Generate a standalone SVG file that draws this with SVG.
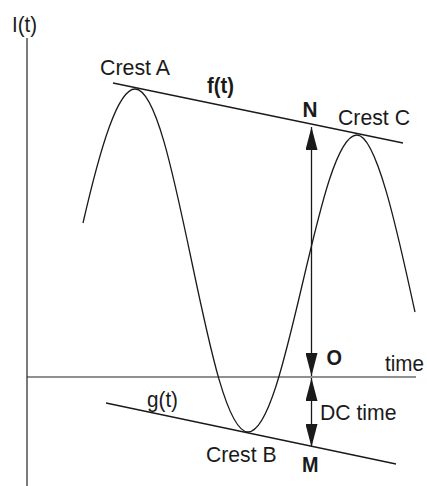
<svg xmlns="http://www.w3.org/2000/svg" width="427" height="486" viewBox="0 0 427 486">
  <style>
    .ln { fill: none; stroke: #1a1a1a; stroke-width: 1.3; }
    .ax { fill: none; stroke: #222; stroke-width: 1.2; }
    .t { font-family: "Liberation Sans", Arial, sans-serif; font-size: 22.5px; fill: #1a1a1a; }
    .b { font-weight: bold; }
  </style>
  <defs>
    <marker id="ah" viewBox="0 0 23 12" refX="23" refY="6" markerWidth="23" markerHeight="12" markerUnits="userSpaceOnUse" orient="auto-start-reverse">
      <path d="M0,0 L23,6 L0,12 z" fill="#1a1a1a"/>
    </marker>
  </defs>
  <rect width="427" height="486" fill="#fff"/>

  <g id="axes">
    <line class="ax" x1="27" y1="38" x2="27" y2="486"/>
    <line class="ax" x1="27" y1="377" x2="416" y2="377"/>
  </g>

  <g id="envelopes">
    <line class="ln" x1="113" y1="83" x2="403" y2="143"/>
    <line class="ln" x1="106" y1="403" x2="396" y2="464"/>
  </g>

  <g id="wave">
    <path class="ln" d="M83,223 C100.3,147.7 117.7,89 135,89 C155.5,89 173.1,172.7 191.5,260.5 C209.9,348.3 227.5,432 248,432 C267.7,432 284.7,359.5 302.5,283.5 C320.3,207.5 337.3,135 357,135 C378,135 401,249 415,312"/>
  </g>

  <g id="connectors">
    <line class="ln" x1="311.5" y1="127" x2="311.5" y2="376" marker-start="url(#ah)" marker-end="url(#ah)"/>
    <line class="ln" x1="311.5" y1="378" x2="311.5" y2="447" marker-start="url(#ah)" marker-end="url(#ah)"/>
  </g>

  <g id="labels">
    <text class="t" x="12" y="32" textLength="25" lengthAdjust="spacingAndGlyphs">I(t)</text>
    <text class="t" x="100" y="75" textLength="70" lengthAdjust="spacingAndGlyphs">Crest A</text>
    <text class="t b" x="207" y="93" textLength="27" lengthAdjust="spacingAndGlyphs">f(t)</text>
    <text class="t b" x="302.5" y="117" textLength="15" lengthAdjust="spacingAndGlyphs">N</text>
    <text class="t" x="338" y="125" textLength="72" lengthAdjust="spacingAndGlyphs">Crest C</text>
    <text class="t b" x="326.5" y="364.5" textLength="15.5" lengthAdjust="spacingAndGlyphs">O</text>
    <text class="t" x="385" y="371" textLength="39" lengthAdjust="spacingAndGlyphs">time</text>
    <text class="t" x="320" y="420" textLength="76.5" lengthAdjust="spacingAndGlyphs">DC time</text>
    <text class="t" x="147" y="407" textLength="31" lengthAdjust="spacingAndGlyphs">g(t)</text>
    <text class="t" x="206" y="462" textLength="70.5" lengthAdjust="spacingAndGlyphs">Crest B</text>
    <text class="t b" x="302" y="472" textLength="16.5" lengthAdjust="spacingAndGlyphs">M</text>
  </g>
</svg>
